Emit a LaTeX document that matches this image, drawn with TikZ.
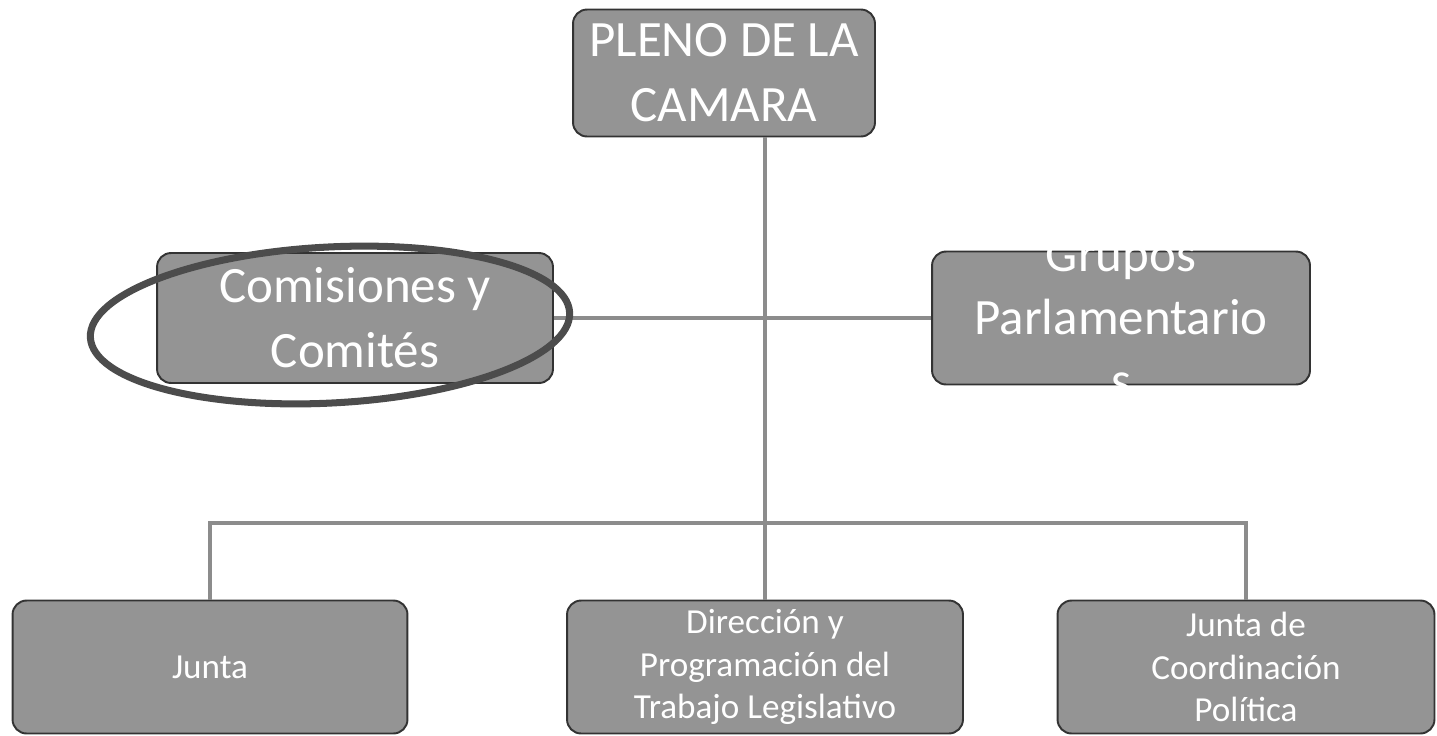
\documentclass[tikz,border=0pt]{standalone}
\usepackage{fontspec}
\setmainfont{Carlito}
\usetikzlibrary{shapes.geometric}

\tikzset{
  caja/.style={draw=black!80, line width=1.1pt, fill=black!42, rounded corners=8pt,
    text=white, align=center, inner sep=0pt},
  grande/.style={caja, font=\fontsize{29}{37}\selectfont},
  chica/.style={caja, font=\fontsize{20}{24}\selectfont},
  enlace/.style={draw=black!45, line width=2.6pt}
}

\begin{document}
\begin{tikzpicture}[x=0.02cm, y=-0.02cm]
        % \draw[help lines,step=100] (0,0) grid (1437,735);
        \useasboundingbox (0,0) rectangle (1437,735);

        \node[grande, minimum width=6.04cm, minimum height=2.54cm] (pleno) at (724,73) {PLENO DE LA\\CAMARA};
        \node[grande, minimum width=7.92cm, minimum height=2.6cm] (comisiones) at (355,318) {Comisiones y\\Comités};
        \node[grande, minimum width=7.56cm, minimum height=2.66cm] (grupos) at (1121,318) {};
        \node[text=white, align=center, inner sep=0pt, font=\fontsize{29}{36}\selectfont] (gruposTxt) at (grupos.center) {Grupos\\Parlamentario\\s};
        \node[chica, minimum width=7.9cm, minimum height=2.66cm] (junta) at (210,667) {Junta};
        \node[chica, minimum width=7.92cm, minimum height=2.66cm] (direccion) at (765,667) {Dirección y\\Programación del\\Trabajo Legislativo};
        \node[chica, minimum width=7.54cm, minimum height=2.66cm] (jcp) at (1246,667) {Junta de\\Coordinación\\Política};

        \coordinate (rama) at (direccion.north |- 0,523);

        % pleno to direccion
        \draw[enlace] (direccion.north |- pleno.south) -- (direccion.north);

        % comisiones to grupos
        \draw[enlace] (comisiones.east) -- (grupos.west);

        % branch to junta and jcp
        \draw[enlace] (junta.north) -- (junta.north |- rama) -- (jcp.north |- rama) -- (jcp.north);

        % mark round comisiones
        \node[ellipse, draw=black!70, line width=4pt, minimum width=9.6cm, minimum height=3.12cm, rotate=3] (marca) at (330,325) {};

      \end{tikzpicture}
\end{document}
